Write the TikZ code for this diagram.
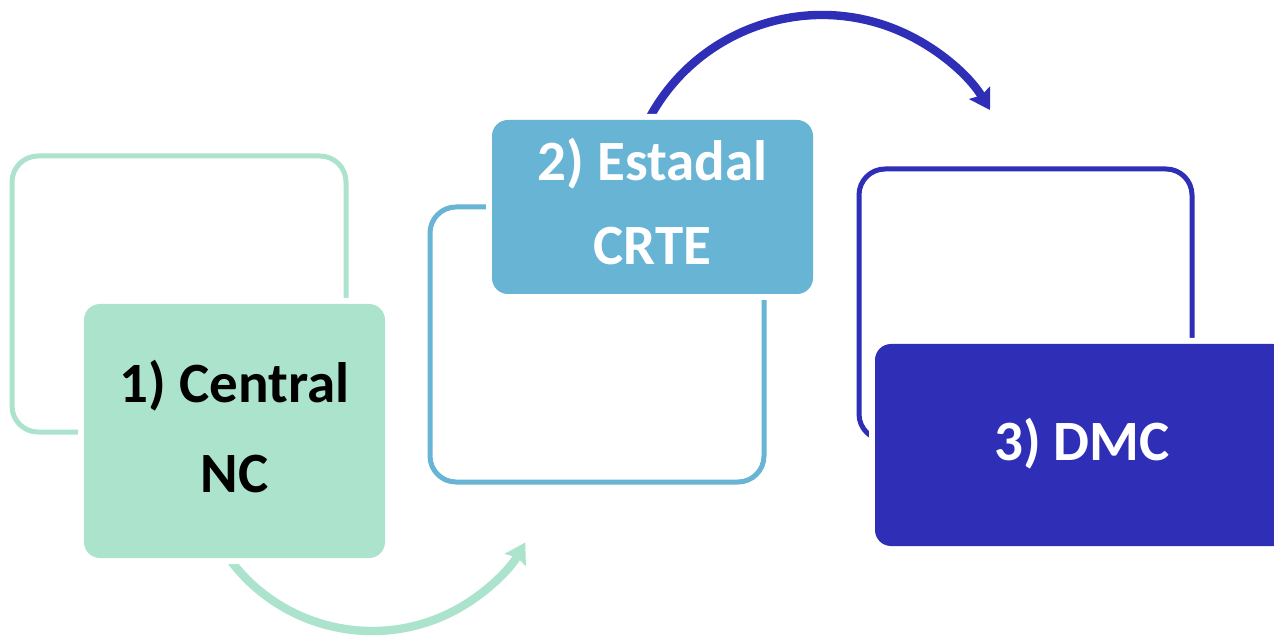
\documentclass[tikz,border=0pt]{standalone}
\usepackage{fontspec}
\setmainfont{Carlito}
\usetikzlibrary{arrows.meta}
\definecolor{cgreen}{HTML}{ACE3CC}
\definecolor{cblue}{HTML}{67B4D5}
\definecolor{cdark}{HTML}{2E2EB7}
\tikzset{
  outlinebox/.style={draw=#1, line width=2.5pt, rounded corners=13pt, inner sep=0pt, outer sep=0pt},
  fillbox/.style={fill=#1, preaction={draw=white, line width=6pt}, rounded corners=8pt, inner sep=0pt, outer sep=0pt},
  boxtext/.style={font=\bfseries\fontsize{28.5pt}{34pt}\selectfont, text=#1, anchor=base, inner sep=0pt},
  flowarc/.style={draw=#1, line width=4.2pt, -{Stealth[length=10pt,width=12pt,inset=1.5pt]}}
}
\begin{document}
\begin{tikzpicture}[x=0.5pt,y=0.5pt]
\useasboundingbox (0,0) rectangle (1274,638);
\clip (0,0) rectangle (1274,638);
% outline boxes
\node[outlinebox=cgreen, minimum width=167pt, minimum height=138pt] (o1) at (179,344) {};
\node[outlinebox=cblue, minimum width=167pt, minimum height=137.5pt] (o2) at (597,293.5) {};
\node[outlinebox=cdark, minimum width=166.5pt, minimum height=135.5pt] (o3) at (1025.5,333.5) {};
% arcs
\coordinate (c1) at (372,184);
\coordinate (c2) at (822,427);
\draw[flowarc=cgreen] ([shift={(210:88.5pt)}]c1) arc[start angle=210, end angle=330, radius=88.5pt];
\draw[flowarc=cdark] ([shift={(155:98pt)}]c2) arc[start angle=155, end angle=31, radius=98pt];
% filled boxes
\node[fillbox=cgreen, minimum width=150.5pt, minimum height=127pt] (n1) at (234.5,207) {};
\node[fillbox=cblue, minimum width=160.5pt, minimum height=87pt] (n2) at (652.5,431) {};
\node[fillbox=cdark, minimum width=207pt, minimum height=101pt] (n3) at (1082,193) {};
% texts
\node[boxtext=black] (t1a) at (234.5,235) {1) Central};
\node[boxtext=black] (t1b) at (234.5,146) {NC};
\node[boxtext=white] (t2a) at (652.5,457) {2) Estadal};
\node[boxtext=white] (t2b) at (652.5,373) {CRTE};
\node[boxtext=white] (t3) at (1082,178) {3) DMC};
\end{tikzpicture}
\end{document}
